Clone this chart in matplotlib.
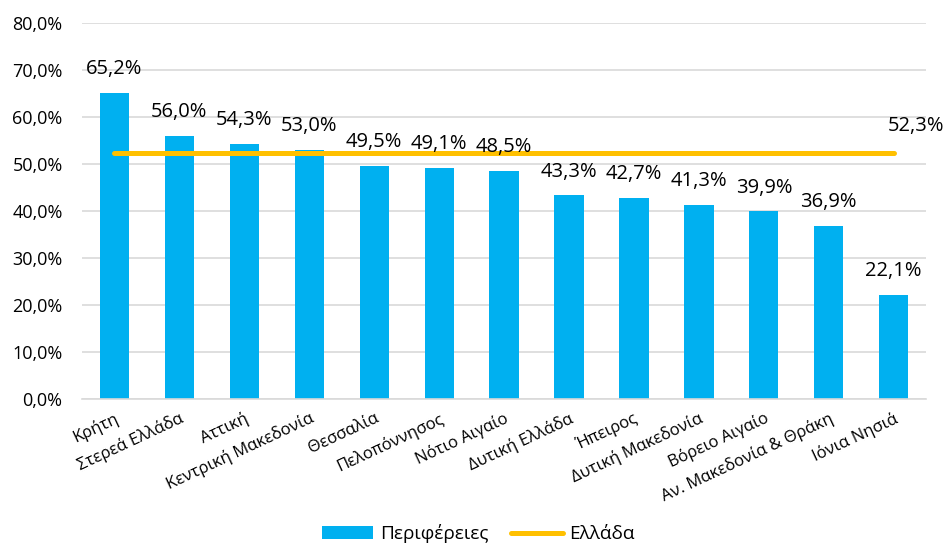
import matplotlib.pyplot as plt
from matplotlib.ticker import FuncFormatter

plt.rcParams['font.family'] = ['Open Sans', 'DejaVu Sans']

regions = ['Κρήτη', 'Στερεά Ελλάδα', 'Αττική', 'Κεντρική Μακεδονία', 'Θεσσαλία',
           'Πελοπόννησος', 'Νότιο Αιγαίο', 'Δυτική Ελλάδα', 'Ήπειρος',
           'Δυτική Μακεδονία', 'Βόρειο Αιγαίο', 'Αν. Μακεδονία & Θράκη', 'Ιόνια Νησιά']
values = [65.2, 56.0, 54.3, 53.0, 49.5, 49.1, 48.5, 43.3, 42.7, 41.3, 39.9, 36.9, 22.1]
greece = 52.3

def pct(v):
    return f'{v:.1f}%'.replace('.', ',')

fig = plt.figure(figsize=(9.47, 5.46), dpi=100)
ax = fig.add_axes([0.0866, 0.2692, 0.8914, 0.6888])

x = list(range(len(regions)))
bars = ax.bar(x, values, width=0.45, color='#00B0F0', label='Περιφέρειες', zorder=2)
line, = ax.plot(x, [greece] * len(x), color='#FFC000', lw=3.6,
                solid_capstyle='round', label='Ελλάδα', zorder=3)

for xi, v in zip(x, values):
    ax.annotate(pct(v), (xi, v), xytext=(0, 10), textcoords='offset points',
                ha='center', va='bottom', fontsize=14.5, color='#000000', zorder=4)
ax.annotate(pct(greece), (x[-1], greece), xytext=(16, 12), textcoords='offset points',
            ha='center', va='bottom', fontsize=14.5, color='#000000', zorder=4)

ax.set_ylim(0, 80)
ax.set_xlim(-0.5, len(x) - 0.5)
ax.set_yticks(range(0, 81, 10))
ax.yaxis.set_major_formatter(FuncFormatter(lambda v, p: pct(v)))
ax.grid(axis='y', color='#D9D9D9', lw=1.2, zorder=0)
for s in ['top', 'right', 'left']:
    ax.spines[s].set_visible(False)
ax.spines['bottom'].set_color('#D9D9D9')
ax.spines['bottom'].set_linewidth(1.2)
ax.tick_params(axis='both', length=0, colors='#000000')
ax.tick_params(axis='y', pad=14, labelsize=13)
ax.set_xticks(x)
ax.set_xticklabels(regions, rotation=25, ha='right', va='top',
                   rotation_mode='anchor', fontsize=12)
ax.tick_params(axis='x', pad=8)

fig.legend(handles=[bars, line], loc='center', bbox_to_anchor=(0.505, 0.022), ncol=2,
           frameon=False, fontsize=13.7, handlelength=2.7, columnspacing=1.2,
           handletextpad=0.35)

fig.savefig('out.png', dpi=100)
